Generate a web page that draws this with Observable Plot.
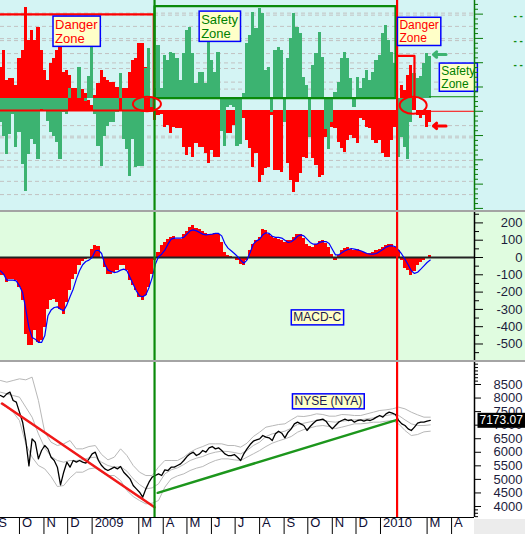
<!DOCTYPE html>
<html>
<head>
<meta charset="utf-8">
<script src="https://cdn.jsdelivr.net/npm/d3@7"></script>
<script src="https://cdn.jsdelivr.net/npm/@observablehq/plot@0.6"></script>
<style>
  html, body { margin: 0; padding: 0; background: #ffffff; }
  #chart { position: relative; width: 525px; height: 534px; overflow: hidden; font-family: "Liberation Sans", Arial, sans-serif; }
  #chart > .panel { position: absolute; left: 0; }
  .sep { position: absolute; left: 0; width: 525px; height: 2px; background: #a4a4a4; }
  .corner { position: absolute; left: 474px; top: 519px; width: 51px; height: 15px; background: #ececec; }
</style>
</head>
<body>
<div id="chart"></div>
<script>
// ---------------- data ----------------
const seriesStart = "2008-09-07";
const seriesStepDays = 4;
const bandStepDays = 8;
const xStart = "2008-09-07", xEnd = "2010-04-30";

// top oscillator: green histogram (relative to its base) and red histogram (relative to its base)
const oscGreen = [
  -25,-39,-57,-37,-17,-50,-35,-67,-94,-57,
  -42,-47,-62,-12,-14,-24,-35,-39,-45,-62,
  -15,-17,10,0,0,31,0,-3,22,51,
  -17,-49,-69,-39,-29,-25,-25,-15,25,-42,
  -52,-79,-42,-70,-69,-69,30,50,-10,10,
  53,10,43,38,46,45,40,18,45,68,
  71,45,15,26,26,15,56,38,26,46,
  -34,-49,-10,-8,-10,-49,-47,5,55,63,
  86,70,90,85,28,31,-15,48,51,48,
  -25,40,60,85,71,65,21,13,-40,33,
  45,66,41,-32,-52,-25,6,16,40,46,
  40,20,-10,21,10,20,28,18,26,38,
  43,65,73,58,46,35,-60,-40,-50,-62,
  -25,25,20,22,35,45,42
];
const oscRed = [
  43,60,30,32,32,25,52,60,103,70,
  80,70,83,60,40,30,47,52,60,63,
  38,40,35,22,22,21,21,17,10,5,
  15,27,40,33,30,28,28,23,20,22,
  22,38,50,52,67,67,43,17,10,-10,
  -5,-4,-17,-15,-23,-17,-18,-18,-37,-45,
  -37,-47,-33,-37,-37,-43,-53,-40,-47,-47,
  -5,-10,-23,-23,-15,-5,0,-8,-30,-38,
  -57,-43,-72,-65,-58,-57,-5,-60,-60,-62,
  -12,-53,-70,-82,-72,-63,-47,-48,-3,-48,
  -55,-67,-65,-27,-17,-17,-18,-32,-38,-42,
  -30,-25,-28,-33,-8,-10,-17,-18,-30,-33,
  -30,-43,-47,-47,-30,-17,5,25,20,35,
  45,15,-5,-8,-5,-17,-12
];
const macdHist = [
  -106,-106,-145,-125,-125,-135,-173,-250,-443,-511,
  -511,-424,-491,-482,-405,-299,-250,-245,-260,-299,
  -330,-260,-193,-125,-96,-48,-23,-10,-4,48,
  67,62,-5,-58,-96,-100,-87,-73,-48,-48,
  -77,-135,-164,-193,-231,-250,-222,-173,-96,-19,
  29,67,87,106,116,119,106,106,135,150,
  173,183,170,164,150,139,131,135,139,135,
  87,29,10,4,0,-15,-39,-48,-19,39,
  77,100,116,160,154,135,119,112,106,96,
  87,96,100,116,131,135,112,77,62,58,
  77,92,96,81,58,19,-15,10,42,54,
  58,48,42,46,35,27,23,23,29,39,
  48,58,67,77,73,58,39,-19,-62,-77,
  -106,-81,-48,-29,-15,-4,10
];
const macdSignal = [
  -77,-96,-131,-131,-131,-135,-164,-202,-299,-405,
  -462,-472,-491,-491,-453,-337,-304,-289,-285,-299,
  -308,-274,-227,-183,-125,-77,-42,-23,-15,0,
  39,42,23,-39,-73,-81,-87,-83,-73,-67,
  -77,-116,-154,-193,-222,-227,-216,-173,-116,-39,
  4,19,42,77,106,112,112,112,116,135,
  154,160,154,145,135,131,133,135,139,139,
  125,81,54,39,23,6,-15,-33,-15,29,
  77,96,106,131,143,139,123,116,116,112,
  100,87,91,104,123,131,125,106,87,77,
  77,87,92,92,81,48,15,15,27,39,
  46,52,48,44,39,31,23,19,19,23,
  35,46,60,67,67,62,42,19,-10,-42,
  -77,-92,-85,-67,-48,-29,-15
];
const nyaClose = [
  8094,8033,8156,8217,7910,7848,7479,7110,6434,5500,
  6495,6372,5757,6065,6249,6126,5819,5696,5450,4800,
  5265,5634,5450,5696,5634,5696,5634,5597,5757,5942,
  6003,5696,5511,5388,5327,5388,5450,5388,5474,5265,
  5142,5019,4773,4650,4527,4343,4650,4896,5081,5142,
  5204,5142,5352,5327,5450,5450,5511,5573,5696,5843,
  5942,6003,5880,5942,6065,6003,6163,6212,6126,6163,
  6065,5942,5880,5880,5917,5819,5696,5942,6126,6286,
  6409,6458,6495,6618,6557,6532,6434,6680,6778,6704,
  6532,6741,6864,7049,7110,7049,6987,6803,6950,7073,
  7172,7196,7221,7147,6987,6864,6987,7110,7172,7221,
  7172,7196,7110,7172,7196,7147,7196,7172,7221,7295,
  7356,7295,7418,7479,7442,7393,7172,7049,6987,6864,
  6803,6926,7073,7110,7110,7147,7173.07
];
const bandUpper = [
  8648,8586,8648,8709,8672,8771,7910,6741,6372,6249,
  6311,6434,6126,6126,6212,6249,5917,5720,5819,6126,
  5880,5511,5265,5142,5142,5450,5696,5696,5696,5819,
  6003,6126,6212,6311,6311,6311,6249,6249,6188,6335,
  6581,6741,6926,6975,7024,7049,7196,7332,7319,7356,
  7418,7393,7332,7332,7393,7381,7356,7356,7418,7479,
  7541,7565,7602,7664,7602,7479,7381,7295,7295
];
const bandMiddle = [
  8217,8156,8094,8033,7664,7295,6680,6163,5843,5696,
  5634,5696,5696,5720,5794,5819,5634,5511,5450,5474,
  5302,5019,4810,4650,4687,4835,5204,5352,5425,5548,
  5696,5782,5843,5942,6003,6040,6028,5991,5942,6065,
  6249,6372,6581,6680,6729,6778,6889,7024,7073,7122,
  7172,7172,7135,7110,7147,7172,7196,7196,7233,7270,
  7319,7356,7393,7356,7196,7049,6987,6987,7012
];
const bandLower = [
  7787,7664,7479,7172,6311,5819,5511,5388,5105,4736,
  4773,5056,5265,5265,5388,5425,5265,5142,5142,4958,
  4589,4367,4220,4097,4122,4220,4712,5019,5130,5204,
  5327,5413,5474,5597,5696,5757,5757,5720,5696,5819,
  5942,6065,6212,6335,6421,6495,6581,6741,6840,6901,
  6962,6987,6950,6876,6926,6987,7049,7049,7073,7110,
  7110,7147,7172,7049,6803,6618,6655,6753,6778
];
const trendRed = [{date: "2008-09-09", value: 7799}, {date: "2009-03-21", value: 3972}];
const trendGreen = [{date: "2009-03-25", value: 4504}, {date: "2010-01-22", value: 7197}];
const lastClose = 7173.07;
const buyDate = "2009-03-21", sellDate = "2010-01-22";

// axes
const macdTicks = [200, 100, 0, -100, -200, -300, -400, -500];
const macdTickLabels = ["200", "100", "0", "-100", "-200", "-300", "-400", "-500"];
const macdMinorTicks = [250, 150, 50, -50, -150, -250, -350, -450, -550];
const priceTicks = [8500, 8000, 7500, 7000, 6500, 6000, 5500, 5000, 4500, 4000];
const priceTickLabels = ["8500", "8000", "7500", "7000", "6500", "6000", "5500", "5000", "4500", "4000"];
const priceMinorTicks = [9250, 9125, 9000, 8875, 8750, 8625, 3875, 3750, 3625];
const monthTicks = ["2008-09-01","2008-10-01","2008-11-01","2008-12-01","2009-01-01","2009-03-01","2009-04-01","2009-05-01","2009-06-01","2009-07-01","2009-08-01","2009-09-01","2009-10-01","2009-11-01","2009-12-01","2010-01-01","2010-03-01","2010-04-01"];
const monthLabels = ["S","O","N","D","2009","M","A","M","J","J","A","S","O","N","D","2010","M","A"];

// top-panel levels (oscillator units)
const greenBase = 13.3, redBase = 0.8;
const topTickStep = 24.4;
const topGridLevels = [98.6, 96.6, 85.3, 73, 71, 58, 48.6, 43, 29.3, 22.3, -14.4, -25, -26.7, -42, -49.4, -56, -70.4, -83.7];
const topDashLevels = [97.6, 73.2, 48.8];

// annotations
const topNotes = [
  {date: "2008-11-15", u: 93.3, text: "Danger\nZone", color: "#ff0000", size: 13},
  {date: "2009-05-19", u: 98.3, text: "Safety\nZone", color: "#008000", size: 13},
  {date: "2010-01-25", u: 92.3, text: "Danger\nZone", color: "#ff0000", size: 12},
  {date: "2010-03-19", u: 46.3, text: "Safety\nZone", color: "#008000", size: 12}
];
const zonePaths = [
  {z: "dangerA", color: "#ff0000", pts: [["2008-09-07", 97.3], ["2009-03-20", 97.3], ["2009-03-20", redBase], ["2008-09-07", redBase]]},
  {z: "safety", color: "#0a8a0a", pts: [["2009-03-21", greenBase], ["2009-03-21", 105.6], ["2010-01-20", 105.6], ["2010-01-20", greenBase], ["2009-03-21", greenBase]]},
  {z: "dangerB", color: "#ff0000", pts: [["2010-01-22", 55.6], ["2010-02-13", 55.6], ["2010-02-13", 14]]}
];
const tailLines = [
  {from: "2010-03-04", u: 14.6, color: "#0a8a0a"},
  {from: "2010-03-03", u: 0.0, color: "#ff0000"}
];
const topArrows = [
  {from: "2010-03-25", to: "2010-03-09", u: 57, color: "#3cb371"},
  {from: "2010-03-25", to: "2010-03-09", u: -14.7, color: "#ff0000"}
];
const rings = [
  {date: "2009-03-12", u: 6.8, rx: 14, ry: 7.2},
  {date: "2010-02-12", u: 5.5, rx: 13.5, ry: 8.5}
];
const macdNote = {date: "2009-10-13", v: -347, text: "MACD-C"};
const priceNote = {date: "2009-10-27", p: 7873, text: "NYSE (NYA)"};

// ---------------- build ----------------
const D = s => new Date(s + "T00:00:00Z");
const DAY = 864e5;
const t0 = D(seriesStart).getTime();
const xDomain = [D(xStart), D(xEnd)];
const series = oscGreen.map((g, i) => {
  const c = t0 + i * seriesStepDays * DAY;
  return {
    date: new Date(c),
    x1: new Date(c - seriesStepDays / 2 * DAY),
    x2: new Date(c + seriesStepDays / 2 * DAY),
    g, r: oscRed[i], h: macdHist[i], s: macdSignal[i], p: nyaClose[i]
  };
});
const bands = bandUpper.map((u, j) => ({date: new Date(t0 + j * bandStepDays * DAY), u, m: bandMiddle[j], l: bandLower[j]}));

const W = 525, MR = 51;
const FONT = '"Liberation Sans", Arial, sans-serif';
const GREENLINE = "#0a8a0a", REDLINE = "#ff0000";
const TXT = "#1c1c3c";

const topDomain = [-99.7, 111.3];
const topMajor = d3.range(-4, 5).map(k => k * topTickStep).filter(v => v >= topDomain[0] && v <= topDomain[1]);
const topMinor = d3.range(-25, 26).map(k => k * topTickStep / 5)
  .filter(v => v >= topDomain[0] && v <= topDomain[1] && !topMajor.some(m => Math.abs(m - v) < 0.01));

const zoneData = zonePaths.flatMap(z => z.pts.map(p => ({z: z.z, color: z.color, date: D(p[0]), u: p[1]})));

const topPlot = Plot.plot({
  width: W, height: 210, marginLeft: 0, marginRight: MR, marginTop: 0, marginBottom: 0,
  style: {background: "#d4f4f4", fontFamily: FONT},
  x: {type: "utc", domain: xDomain, axis: null},
  y: {domain: topDomain},
  marks: [
    Plot.ruleY(topGridLevels, {stroke: "#c2c2c2", strokeDasharray: "4,3"}),
    Plot.rect(series, {x1: "x1", x2: "x2", y1: () => redBase, y2: d => redBase + d.r, fill: "#ff0000", shapeRendering: "crispEdges"}),
    Plot.rect(series, {x1: "x1", x2: "x2", y1: () => greenBase, y2: d => greenBase + d.g, fill: "#3cb371", shapeRendering: "crispEdges"}),
    ...zonePaths.map(z => Plot.line(zoneData.filter(d => d.z === z.z), {x: "date", y: "u", stroke: z.color, strokeWidth: 2.2})),
    ...tailLines.map(t => Plot.ruleY([t], {y: "u", x1: d => D(d.from), x2: () => xDomain[1], stroke: t.color, strokeWidth: 1})),
    Plot.ruleX([D(buyDate)], {stroke: GREENLINE, strokeWidth: 2.2}),
    Plot.ruleX([D(sellDate)], {stroke: REDLINE, strokeWidth: 2.2}),
    ...topArrows.map(a => Plot.arrow([a], {x1: d => D(d.from), x2: d => D(d.to), y1: "u", y2: "u", stroke: a.color, strokeWidth: 3, headLength: 7, headAngle: 80})),
    ...topNotes.map(n => Plot.text([n], {x: d => D(d.date), y: "u", text: "text", fill: n.color, fontSize: n.size, textAnchor: "start", lineAnchor: "top", lineHeight: 1.1, ariaDescription: "notebox"})),
    Plot.ruleX([xDomain[1]], {stroke: "#0a7a0a", strokeWidth: 1.5}),
    Plot.axisY({anchor: "right", ticks: topMajor, tickSize: 8, tickFormat: () => "", label: null, stroke: "#0a7a0a"}),
    Plot.axisY({anchor: "right", ticks: topMinor, tickSize: 3, tickFormat: () => "", label: null, stroke: "#0a7a0a"}),
    Plot.text(topDashLevels, {y: d => d, text: () => "- -", frameAnchor: "right", dx: 39, dy: 2, textAnchor: "start", fill: "#108a10", fontSize: 10, fontWeight: "bold"})
  ]
});

const macdPlot = Plot.plot({
  width: W, height: 148, marginLeft: 0, marginRight: MR, marginTop: 0, marginBottom: 0,
  style: {background: "#e0fce0", fontFamily: FONT},
  x: {type: "utc", domain: xDomain, axis: null},
  y: {domain: [-595.4, 260.1]},
  marks: [
    Plot.rect(series, {x1: "x1", x2: "x2", y1: () => 0, y2: "h", fill: "#ff0000", shapeRendering: "crispEdges"}),
    Plot.ruleY([0], {stroke: "#222222", strokeWidth: 2}),
    Plot.line(series, {x: "date", y: "s", stroke: "#0000ff", strokeWidth: 1.2}),
    Plot.ruleX([D(buyDate)], {stroke: GREENLINE, strokeWidth: 2.2}),
    Plot.ruleX([D(sellDate)], {stroke: REDLINE, strokeWidth: 2.2}),
    Plot.ruleX([xDomain[1]], {stroke: "#000000", strokeWidth: 1.5}),
    Plot.axisY({anchor: "right", ticks: macdTicks, tickSize: 8, tickFormat: () => "", label: null, stroke: "#000000"}),
    Plot.axisY({anchor: "right", ticks: macdMinorTicks, tickSize: 4, tickFormat: () => "", label: null, stroke: "#000000"}),
    Plot.text(macdTicks, {y: d => d, text: (d, i) => macdTickLabels[i], frameAnchor: "right", dx: 48, textAnchor: "end", fontSize: 13, fill: TXT}),
    Plot.text([macdNote], {x: d => D(d.date), y: "v", text: "text", fill: "#1a1a4a", fontSize: 12, ariaDescription: "notebox"})
  ]
});

const pricePlot = Plot.plot({
  width: W, height: 172, marginLeft: 0, marginRight: MR, marginTop: 0, marginBottom: 17,
  style: {background: "#ffffff", fontFamily: FONT},
  x: {type: "utc", domain: xDomain},
  y: {domain: [3594, 9311.5]},
  marks: [
    Plot.line(bands, {x: "date", y: "u", stroke: "#b8b8b8", strokeWidth: 1}),
    Plot.line(bands, {x: "date", y: "m", stroke: "#b8b8b8", strokeWidth: 1}),
    Plot.line(bands, {x: "date", y: "l", stroke: "#b8b8b8", strokeWidth: 1}),
    Plot.line(series, {x: "date", y: "p", stroke: "#000000", strokeWidth: 1.3}),
    Plot.line(trendRed, {x: d => D(d.date), y: "value", stroke: "#f01818", strokeWidth: 2.5}),
    Plot.line(trendGreen, {x: d => D(d.date), y: "value", stroke: "#1c961c", strokeWidth: 2.5}),
    Plot.ruleX([D(buyDate)], {stroke: GREENLINE, strokeWidth: 2.2}),
    Plot.ruleX([D(sellDate)], {stroke: REDLINE, strokeWidth: 2.2}),
    Plot.ruleX([xDomain[1]], {stroke: "#000000", strokeWidth: 1.5}),
    Plot.ruleY([3594], {stroke: "#000000", strokeWidth: 1}),
    Plot.axisY({anchor: "right", ticks: priceTicks, tickSize: 6, tickFormat: () => "", label: null, stroke: "#000000"}),
    Plot.axisY({anchor: "right", ticks: priceMinorTicks, tickSize: 3, tickFormat: () => "", label: null, stroke: "#000000"}),
    Plot.text(priceTicks, {y: d => d, text: (d, i) => priceTickLabels[i], frameAnchor: "right", dx: 48, textAnchor: "end", fontSize: 13, fill: TXT}),
    Plot.text([lastClose], {y: d => d, text: d => d.toFixed(2), frameAnchor: "right", dx: 5, textAnchor: "start", fontSize: 12, fill: "#ffffff", ariaDescription: "lastbox"}),
    Plot.axisX({ticks: monthTicks.map(D), tickSize: 17, tickFormat: () => "", label: null, stroke: "#000000"}),
    Plot.text(monthTicks, {x: d => D(d), text: (d, i) => monthLabels[i], frameAnchor: "bottom", dx: 2.5, dy: 9.5, textAnchor: "start", fontSize: 13, fill: "#101036"}),
    Plot.text([priceNote], {x: d => D(d.date), y: "p", text: "text", fill: "#1a1a4a", fontSize: 12, ariaDescription: "notebox"})
  ]
});

// ---------------- layout ----------------
const chart = document.getElementById("chart");
function place(node, top) { node.classList.add("panel"); node.style.top = top + "px"; chart.appendChild(node); }
place(topPlot, 0);
place(macdPlot, 212);
place(pricePlot, 362);
for (const top of [210, 360]) { const s = document.createElement("div"); s.className = "sep"; s.style.top = top + "px"; chart.appendChild(s); }
const corner = document.createElement("div"); corner.className = "corner"; chart.appendChild(corner);

// boxes behind annotation texts
function boxLabels(svg, label, fill, stroke, padX, padY) {
  svg.querySelectorAll(`g[aria-description="${label}"] text`).forEach(t => {
    const b = t.getBBox();
    const r = document.createElementNS("http://www.w3.org/2000/svg", "rect");
    r.setAttribute("x", b.x - padX);
    r.setAttribute("y", b.y - padY);
    r.setAttribute("width", b.width + 2 * padX);
    r.setAttribute("height", b.height + 2 * padY);
    r.setAttribute("fill", fill);
    if (stroke) { r.setAttribute("stroke", stroke); r.setAttribute("stroke-width", 1.5); }
    const tr = t.getAttribute("transform"); if (tr) r.setAttribute("transform", tr);
    t.parentNode.insertBefore(r, t);
  });
}
for (const svg of [topPlot, macdPlot, pricePlot]) boxLabels(svg, "notebox", "#ffffc8", "#0000ff", 2, 0.5);
boxLabels(pricePlot, "lastbox", "#000000", null, 2, 0.5);

// red rings in the oscillator panel
const sx = topPlot.scale("x"), sy = topPlot.scale("y");
rings.forEach(r => {
  d3.select(topPlot).append("ellipse")
    .attr("cx", sx.apply(D(r.date))).attr("cy", sy.apply(r.u))
    .attr("rx", r.rx).attr("ry", r.ry)
    .attr("fill", "none").attr("stroke", "#ff0000").attr("stroke-width", 2);
});
</script>
</body>
</html>
